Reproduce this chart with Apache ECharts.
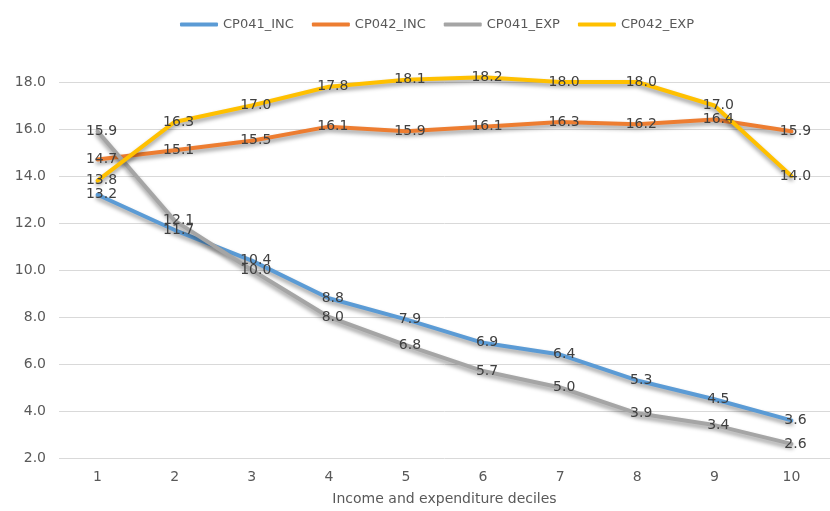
<!DOCTYPE html>
<html>
<head>
<meta charset="utf-8">
<script src="https://cdn.jsdelivr.net/npm/echarts@6/dist/echarts.min.js"></script>
<style>
  html, body { margin: 0; padding: 0; background: #fff; }
  #chart { width: 830px; height: 511px; }
</style>
</head>
<body>
<div id="chart"></div>
<script>
const deciles = ["1", "2", "3", "4", "5", "6", "7", "8", "9", "10"];
const cp041Inc = [13.2, 11.7, 10.4, 8.8, 7.9, 6.9, 6.4, 5.3, 4.5, 3.6];
const cp042Inc = [14.7, 15.1, 15.5, 16.1, 15.9, 16.1, 16.3, 16.2, 16.4, 15.9];
const cp041Exp = [15.9, 12.1, 10.0, 8.0, 6.8, 5.7, 5.0, 3.9, 3.4, 2.6];
const cp042Exp = [13.8, 16.3, 17.0, 17.8, 18.1, 18.2, 18.0, 18.0, 17.0, 14.0];

const font = "'DejaVu Sans', Verdana, sans-serif";

function makeSeries(name, data, color) {
  return {
    name,
    type: "line",
    data,
    color,
    clip: false,
    symbol: "circle",
    symbolSize: 0,
    showSymbol: true,
    lineStyle: {
      width: 4,
      color,
      cap: "round",
      join: "round",
      shadowColor: "rgba(0,0,0,0.4)",
      shadowBlur: 4,
      shadowOffsetY: 3
    },
    label: {
      show: true,
      position: "inside",
      offset: [4, 0],
      formatter: p => p.value.toFixed(1),
      color: "#404040",
      fontFamily: font,
      fontSize: 14
    },
    emphasis: { disabled: true }
  };
}

const chart = echarts.init(document.getElementById("chart"));

chart.setOption({
  animation: false,
  legend: {
    top: 13,
    left: 175,
    icon: "roundRect",
    itemWidth: 38,
    itemHeight: 4,
    itemGap: 18,
    textStyle: { color: "#595959", fontFamily: font, fontSize: 13 }
  },
  grid: { left: 59, right: -6, top: 82, bottom: 48 },
  xAxis: {
    type: "category",
    data: deciles,
    name: "Income and expenditure deciles",
    nameLocation: "middle",
    nameGap: 34,
    nameTextStyle: { color: "#595959", fontFamily: font, fontSize: 14 },
    axisLine: { show: false },
    axisTick: { show: false },
    axisLabel: { color: "#595959", fontFamily: font, fontSize: 14, margin: 12 }
  },
  yAxis: {
    type: "value",
    min: 2,
    max: 18,
    interval: 2,
    axisLine: { show: false },
    axisTick: { show: false },
    axisLabel: {
      color: "#595959",
      fontFamily: font,
      fontSize: 14,
      margin: 13,
      formatter: v => v.toFixed(1)
    },
    splitLine: { lineStyle: { color: "#d9d9d9", width: 1 } }
  },
  series: [
    makeSeries("CP041_INC", cp041Inc, "#5B9BD5"),
    makeSeries("CP042_INC", cp042Inc, "#ED7D31"),
    makeSeries("CP041_EXP", cp041Exp, "#A5A5A5"),
    makeSeries("CP042_EXP", cp042Exp, "#FFC000")
  ]
});
</script>
</body>
</html>
